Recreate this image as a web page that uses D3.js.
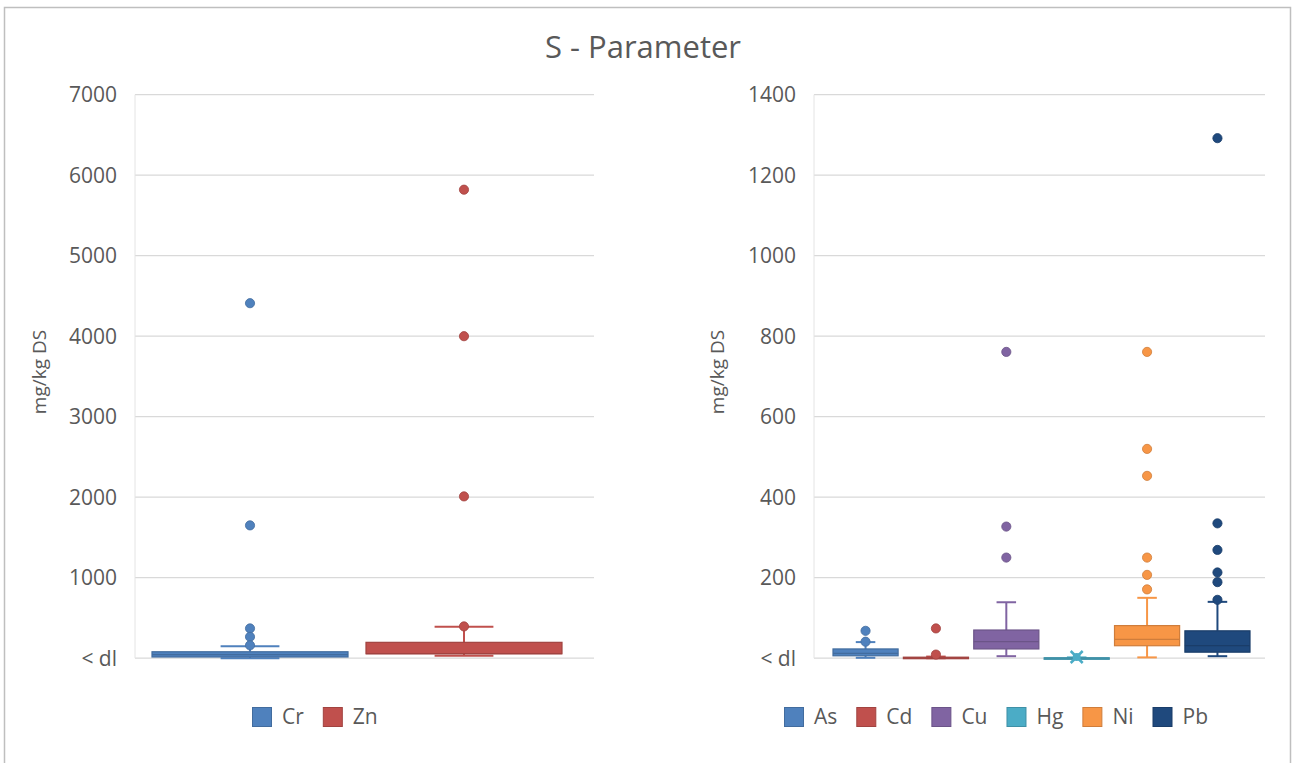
<!DOCTYPE html>
<html>
<head>
<meta charset="utf-8">
<script src="https://cdn.jsdelivr.net/npm/d3@7"></script>
<style>
  body { margin: 0; background: #fff; }
  svg text { font-family: "Open Sans", "Noto Sans", sans-serif; fill: #595959; }
</style>
</head>
<body>
<div id="plot"></div>
<script>
// left panel: Cr, Zn
var leftNames = ["Cr", "Zn"];
var leftColors = ["#4f81bd", "#c0504d"];
var leftLow = [0, 30];
var leftQ1 = [15, 55];
var leftMedian = [45, 58];
var leftQ3 = [80, 197];
var leftHigh = [150, 390];
var leftOutliers = [[4410, 1650, 370, 265, 160], [5820, 4000, 2010, 395]];
var leftTicks = [0, 1000, 2000, 3000, 4000, 5000, 6000, 7000];

// right panel: As, Cd, Cu, Hg, Ni, Pb
var rightNames = ["As", "Cd", "Cu", "Hg", "Ni", "Pb"];
var rightColors = ["#4f81bd", "#c0504d", "#8064a2", "#4bacc6", "#f79646", "#1f497d"];
var rightLow = [1, 0, 5, 0, 2, 5];
var rightQ1 = [6, 0, 23, 0, 31, 15];
var rightMedian = [12, 1, 41, 0.3, 47, 31];
var rightQ3 = [23, 2.5, 70, 1, 81, 68];
var rightHigh = [40, 4, 139, 2, 150, 140];
var rightMean = [null, null, null, 3, null, null];
var rightOutliers = [[68, 41], [74, 9], [761, 327, 250], [], [761, 520, 453, 250, 207, 171], [1292, 335, 269, 213, 189, 145]];
var rightTicks = [0, 200, 400, 600, 800, 1000, 1200, 1400];

var width = 1297, height = 763;

var svg = d3.select("#plot").append("svg")
  .attr("width", width)
  .attr("height", height);

svg.append("rect")
  .attr("x", 4.5).attr("y", 7.5)
  .attr("width", 1286).attr("height", 770)
  .attr("fill", "#fff")
  .attr("stroke", "#bfbfbf")
  .attr("stroke-width", 1.5);

svg.append("text")
  .attr("x", 643).attr("y", 58)
  .attr("text-anchor", "middle")
  .style("font-size", "31px")
  .text("S - Parameter");

function darker(c) { return d3.color(c).darker(0.5).formatHex(); }

function drawPanel(cfg) {
  var y = d3.scaleLinear().domain(cfg.domain).range([658.2, 94.7]);
  var x = d3.scaleBand().domain(cfg.names).range(cfg.boxRange)
    .paddingInner(cfg.padInner).paddingOuter(0);
  var bw = x.bandwidth();
  var g = svg.append("g");

  // grid
  g.selectAll("line.grid").data(cfg.ticks).enter().append("line")
    .attr("class", "grid")
    .attr("x1", cfg.plotX[0]).attr("x2", cfg.plotX[1])
    .attr("y1", function (d) { return y(d); })
    .attr("y2", function (d) { return y(d); })
    .attr("stroke", "#d9d9d9").attr("stroke-width", 1.3);

  g.append("line")
    .attr("x1", cfg.plotX[0]).attr("x2", cfg.plotX[0])
    .attr("y1", y(cfg.domain[1])).attr("y2", y(0))
    .attr("stroke", "#e4e4e4").attr("stroke-width", 1);

  g.selectAll("text.tick").data(cfg.ticks).enter().append("text")
    .attr("class", "tick")
    .attr("x", cfg.plotX[0] - 18)
    .attr("y", function (d) { return y(d); })
    .attr("dy", "0.36em")
    .attr("text-anchor", "end")
    .style("font-size", "21px")
    .text(function (d) { return d === 0 ? "< dl" : d; });

  g.append("text")
    .attr("transform", "translate(" + cfg.titleX + ",372) rotate(-90)")
    .attr("text-anchor", "middle")
    .style("font-size", "19px")
    .text("mg/kg DS");

  cfg.names.forEach(function (name, i) {
    var col = cfg.colors[i];
    var dk = darker(col);
    var cx = x(name) + bw / 2;
    var cap = bw * 0.3;
    var s = g.append("g");

    // whiskers
    s.append("line").attr("x1", cx).attr("x2", cx)
      .attr("y1", y(cfg.high[i])).attr("y2", y(cfg.q3[i]))
      .attr("stroke", col).attr("stroke-width", 2);
    s.append("line").attr("x1", cx).attr("x2", cx)
      .attr("y1", y(cfg.q1[i])).attr("y2", y(cfg.low[i]))
      .attr("stroke", col).attr("stroke-width", 2);
    [cfg.high[i], cfg.low[i]].forEach(function (v) {
      s.append("line").attr("x1", cx - cap / 2).attr("x2", cx + cap / 2)
        .attr("y1", y(v)).attr("y2", y(v))
        .attr("stroke", col).attr("stroke-width", 2);
    });

    // box
    s.append("rect")
      .attr("x", x(name)).attr("width", bw)
      .attr("y", y(cfg.q3[i]))
      .attr("height", Math.max(1.5, y(cfg.q1[i]) - y(cfg.q3[i])))
      .attr("fill", col).attr("stroke", dk).attr("stroke-width", 1.2);
    s.append("line").attr("x1", x(name)).attr("x2", x(name) + bw)
      .attr("y1", y(cfg.median[i])).attr("y2", y(cfg.median[i]))
      .attr("stroke", dk).attr("stroke-width", 1.2);

    // mean marker
    if (cfg.mean && cfg.mean[i] != null) {
      var my = y(cfg.mean[i]);
      s.append("path")
        .attr("d", "M" + (cx - 6) + "," + (my - 6) + "L" + (cx + 6) + "," + (my + 6) +
          "M" + (cx + 6) + "," + (my - 6) + "L" + (cx - 6) + "," + (my + 6))
        .attr("stroke", col).attr("stroke-width", 2.5);
      s.append("circle").attr("cx", cx).attr("cy", my).attr("r", 4)
        .attr("fill", col);
    }

    // outliers
    s.selectAll("circle.out").data(cfg.outliers[i]).enter().append("circle")
      .attr("class", "out")
      .attr("cx", cx)
      .attr("cy", function (d) { return y(d); })
      .attr("r", 4.6)
      .attr("fill", col)
      .attr("stroke", dk).attr("stroke-width", 0.8);
  });

  // legend
  var lg = g.append("g").attr("transform", "translate(" + cfg.legendX + ",707)");
  var off = 0;
  cfg.names.forEach(function (name, i) {
    var it = lg.append("g").attr("transform", "translate(" + off + ",0)");
    it.append("rect").attr("x", 0.5).attr("y", 0.5).attr("width", 19).attr("height", 19)
      .attr("fill", cfg.colors[i]).attr("stroke", darker(cfg.colors[i]));
    var t = it.append("text").attr("x", 30).attr("y", 17)
      .style("font-size", "21px").text(name);
    off += 30 + t.node().getComputedTextLength() + 19;
  });
}

drawPanel({
  names: leftNames, colors: leftColors, low: leftLow, q1: leftQ1, median: leftMedian,
  q3: leftQ3, high: leftHigh, outliers: leftOutliers, ticks: leftTicks,
  domain: [0, 7000], plotX: [135, 594], boxRange: [152, 562], padInner: 0.084,
  titleX: 46, legendX: 252
});

drawPanel({
  names: rightNames, colors: rightColors, low: rightLow, q1: rightQ1, median: rightMedian,
  q3: rightQ3, high: rightHigh, mean: rightMean, outliers: rightOutliers, ticks: rightTicks,
  domain: [0, 1400], plotX: [814, 1265], boxRange: [833, 1250], padInner: 0.075,
  titleX: 724, legendX: 784
});
</script>
</body>
</html>
